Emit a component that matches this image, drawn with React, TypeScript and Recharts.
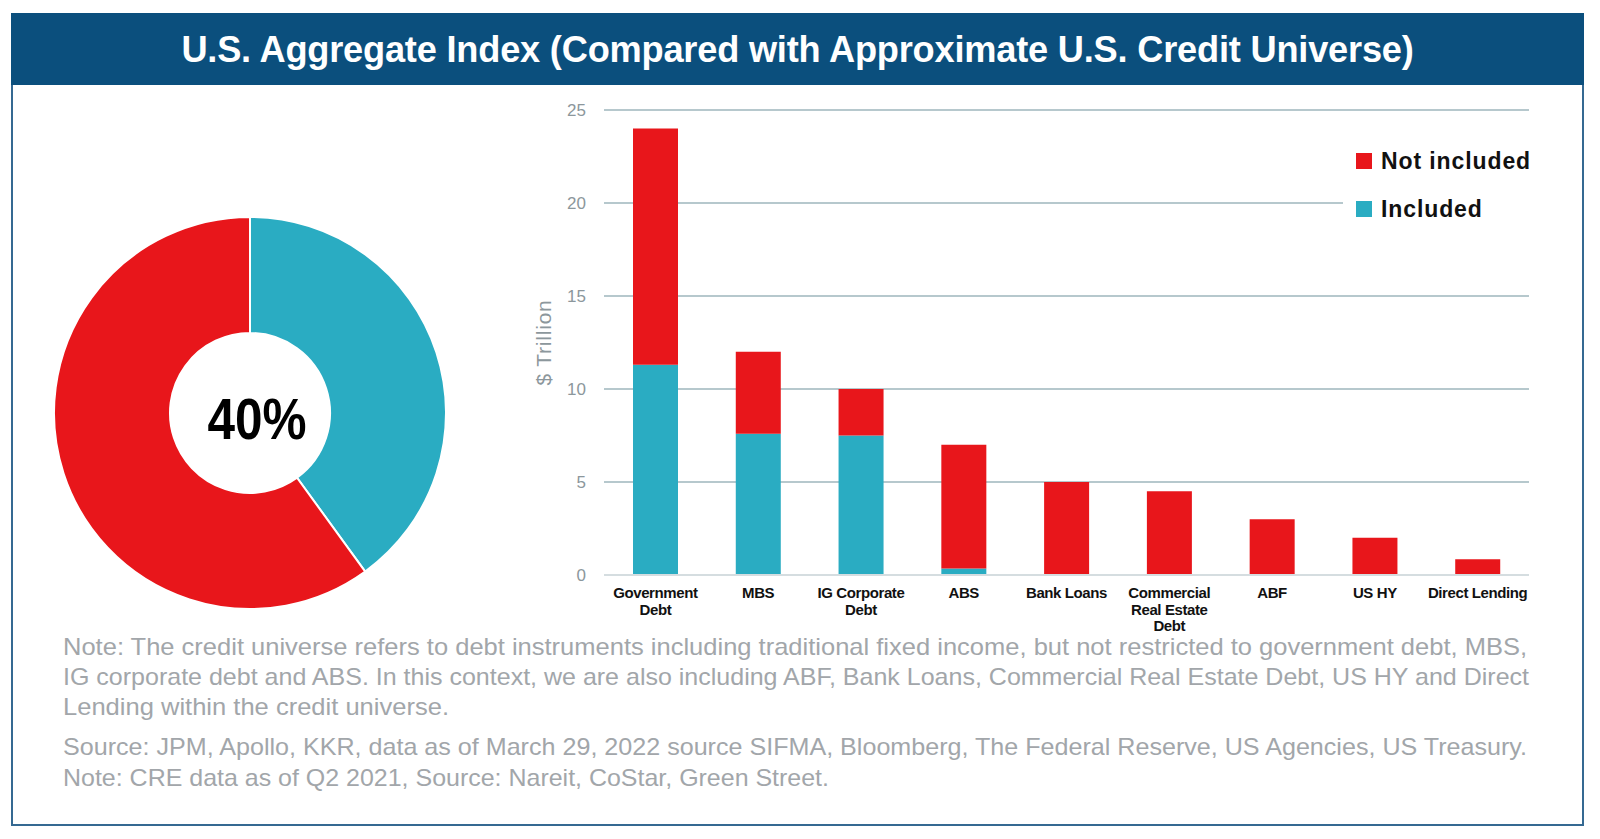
import { BarChart, Bar, XAxis, YAxis, CartesianGrid, Legend, PieChart, Pie, Cell, Label } from 'recharts'

const categories = [
  'Government\nDebt',
  'MBS',
  'IG Corporate\nDebt',
  'ABS',
  'Bank Loans',
  'Commercial\nReal Estate\nDebt',
  'ABF',
  'US HY',
  'Direct Lending',
]
const included = [11.3, 7.6, 7.5, 0.35, 0, 0, 0, 0, 0]
const notIncluded = [12.7, 4.4, 2.5, 6.65, 5, 4.5, 3, 2, 0.85]
const yTicks = [0, 5, 10, 15, 20, 25]

const pieNames = ['Included', 'Not included']
const pieValues = [40, 60]
const centerLabel = '40%'

// text lines with the width each one takes in the original
const noteLines = [
  'Note: The credit universe refers to debt instruments including traditional  fixed income, but not restricted to government debt, MBS,',
  'IG corporate debt and ABS. In this context, we are also including ABF, Bank Loans, Commercial Real Estate Debt, US HY and Direct',
  'Lending within the credit universe.',
]
const noteWidths = [1464, 1466, 386]
const sourceLines = [
  'Source: JPM, Apollo, KKR, data as of March 29, 2022 source SIFMA, Bloomberg, The Federal Reserve, US Agencies, US Treasury.',
  'Note: CRE data as of Q2 2021, Source: Nareit, CoStar, Green Street.',
]
const sourceWidths = [1464, 766]

const RED = '#e8161b'
const TEAL = '#2aacc2'
const FONT = '"Liberation Sans", Arial, sans-serif'

const barData = categories.map((name, i) => ({
  name,
  included: included[i],
  notIncluded: notIncluded[i],
}))
const pieData = pieNames.map((name, i) => ({ name, value: pieValues[i] }))

function XTick({ x, y, payload }: any) {
  const lines = String(payload.value).split('\n')
  return (
    <text x={x} y={y} textAnchor="middle" fontSize={15} fontWeight="bold" fill="#111" fontFamily={FONT} letterSpacing={-0.4}>
      {lines.map((l, i) => (
        <tspan key={i} x={x} dy={i === 0 ? 15 : 16.6}>
          {l}
        </tspan>
      ))}
    </text>
  )
}

function LegendBox() {
  const items = [
    { label: 'Not included', color: RED },
    { label: 'Included', color: TEAL },
  ]
  return (
    <div style={{ fontFamily: FONT, background: '#fff', paddingLeft: 13, paddingTop: 2, paddingBottom: 8 }}>
      {items.map((it) => (
        <div key={it.label} style={{ display: 'flex', alignItems: 'center', height: 48 }}>
          <span style={{ width: 16, height: 16, background: it.color, display: 'inline-block', marginRight: 9 }} />
          <span style={{ fontSize: 23, fontWeight: 'bold', color: '#111', letterSpacing: 0.9 }}>{it.label}</span>
        </div>
      ))}
    </div>
  )
}

export default function App() {
  return (
    <div style={{ position: 'absolute', left: 0, top: 0, width: 1600, height: 839, background: '#fff', fontFamily: FONT }}>
      <div
        style={{
          position: 'absolute',
          left: 11,
          top: 13,
          width: 1573,
          height: 813,
          border: '2px solid #356992',
          boxSizing: 'border-box',
        }}
      />
      <div
        style={{
          position: 'absolute',
          left: 11,
          top: 13,
          width: 1573,
          height: 72,
          background: '#0b4f7d',
          color: '#fff',
          fontSize: 36.2,
          fontWeight: 'bold',
          textAlign: 'center',
          lineHeight: '74px',
          letterSpacing: -0.2,
        }}
      >
        U.S. Aggregate Index (Compared with Approximate U.S. Credit Universe)
      </div>

      <div style={{ position: 'absolute', left: -5, top: 158 }}>
        <PieChart width={500} height={500}>
          <Pie
            data={pieData}
            dataKey="value"
            cx={250}
            cy={250}
            innerRadius={80}
            outerRadius={196}
            startAngle={90}
            endAngle={-270}
            stroke="#fff"
            strokeWidth={2}
            isAnimationActive={false}
          >
            {pieData.map((d) => (
              <Cell key={d.name} fill={d.name === 'Included' ? TEAL : RED} />
            ))}
            <Label
              content={({ viewBox }: any) => (
                <text
                  x={viewBox.cx + 7}
                  y={viewBox.cy + 26}
                  textAnchor="middle"
                  fontSize={57}
                  fontWeight="bold"
                  fill="#000"
                  fontFamily={FONT}
                  textLength={99}
                  lengthAdjust="spacingAndGlyphs"
                >
                  {centerLabel}
                </text>
              )}
            />
          </Pie>
        </PieChart>
      </div>

      <div style={{ position: 'absolute', left: 500, top: 90 }}>
        <BarChart width={1084} height={560} data={barData} margin={{ top: 20, right: 55, left: 0, bottom: 15 }} barSize={45}>
          <CartesianGrid vertical={false} stroke="#b6c8cd" strokeWidth={2} />
          <XAxis
            dataKey="name"
            interval={0}
            height={60}
            tick={<XTick />}
            tickLine={false}
            axisLine={{ stroke: '#d5dde0', strokeWidth: 2 }}
          />
          <YAxis
            width={104}
            domain={[0, 25]}
            ticks={yTicks}
            axisLine={false}
            tickLine={false}
            tickMargin={12}
            tick={{ fill: '#8c979c', fontSize: 17, fontFamily: FONT }}
            label={{
              content: ({ viewBox }: any) => {
                const cx = 43
                const cy = viewBox.y + viewBox.height / 2
                return (
                  <text
                    x={cx}
                    y={cy}
                    transform={`rotate(-90 ${cx} ${cy})`}
                    textAnchor="middle"
                    dominantBaseline="central"
                    fontSize={21}
                    fill="#8c979c"
                    fontFamily={FONT}
                    letterSpacing={0.8}
                  >
                    $ Trillion
                  </text>
                )
              },
            }}
          />
          <Legend
            layout="vertical"
            align="center"
            verticalAlign="middle"
            content={<LegendBox />}
            wrapperStyle={{ left: 843, top: 45, width: 190 }}
          />
          <Bar dataKey="included" stackId="a" fill={TEAL} isAnimationActive={false} />
          <Bar dataKey="notIncluded" stackId="a" fill={RED} isAnimationActive={false} />
        </BarChart>
      </div>

      <svg style={{ position: 'absolute', left: 0, top: 0 }} width={1600} height={839}>
        {noteLines.map((l, i) => (
          <text
            key={l}
            x={63}
            y={655 + i * 29.8}
            fontSize={24}
            fill="#a2a6aa"
            fontFamily={FONT}
            textLength={noteWidths[i]}
            lengthAdjust="spacingAndGlyphs"
          >
            {l}
          </text>
        ))}
        {sourceLines.map((l, i) => (
          <text
            key={l}
            x={63}
            y={755 + i * 30.5}
            fontSize={24}
            fill="#a2a6aa"
            fontFamily={FONT}
            textLength={sourceWidths[i]}
            lengthAdjust="spacingAndGlyphs"
          >
            {l}
          </text>
        ))}
      </svg>
    </div>
  )
}
